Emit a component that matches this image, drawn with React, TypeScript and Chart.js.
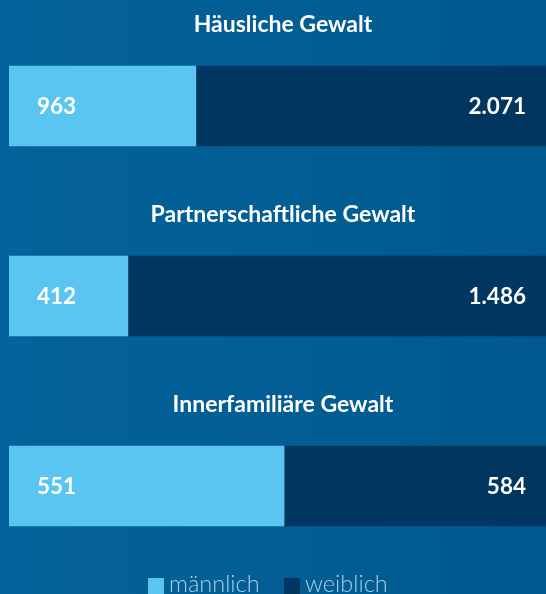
import React, { useEffect, useRef } from "react";
import { Chart, registerables } from "chart.js";

Chart.register(...registerables);

const categories = ["Häusliche Gewalt", "Partnerschaftliche Gewalt", "Innerfamiliäre Gewalt"];
const seriesNames = ["männlich", "weiblich"];
// bar shares as drawn in the picture (percent of the full bar)
const maleShare = [34.1, 21.7, 50.2];
const femaleShare = [65.9, 78.3, 49.8];
// numbers printed in the bars
const maleLabels = ["963", "412", "551"];
const femaleLabels = ["2.071", "1.486", "584"];

const MALE_COLOR = "#5bc5f2";
const FEMALE_COLOR = "#003660";
const FONT = "Lato, 'Open Sans', sans-serif";

const overlayPlugin = {
  id: "overlay",
  beforeDraw(chart: any) {
    const { ctx, width, height } = chart;
    const g = ctx.createLinearGradient(0, 0, width, 0);
    g.addColorStop(0, "#04639a");
    g.addColorStop(1, "#00598e");
    ctx.save();
    ctx.fillStyle = g;
    ctx.fillRect(0, 0, width, height);
    ctx.restore();
  },
  afterDatasetsDraw(chart: any) {
    const { ctx, chartArea } = chart;
    const xScale = chart.scales.x;
    const m0 = chart.getDatasetMeta(0);
    const m1 = chart.getDatasetMeta(1);
    ctx.save();
    ctx.fillStyle = "#ffffff";
    ctx.textBaseline = "middle";
    m0.data.forEach((bar: any, i: number) => {
      // title above the bar
      ctx.font = `700 23px ${FONT}`;
      ctx.textAlign = "center";
      ctx.fillText(categories[i], xScale.getPixelForValue(50), bar.y - 81);
      // male value
      ctx.font = `700 22.5px ${FONT}`;
      ctx.textAlign = "left";
      ctx.fillText(maleLabels[i], bar.base + 28, bar.y + 1);
      // female value
      const fb = m1.data[i];
      ctx.textAlign = "right";
      ctx.fillText(femaleLabels[i], Math.min(fb.x, chartArea.right) - 20, fb.y + 1);
    });
    // legend
    ctx.textBaseline = "alphabetic";
    ctx.textAlign = "left";
    ctx.font = `300 23.5px ${FONT}`;
    const colors = [MALE_COLOR, FEMALE_COLOR];
    const starts = [148, 284];
    seriesNames.forEach((name, i) => {
      ctx.fillStyle = colors[i];
      ctx.fillRect(starts[i], 578, 16, 16);
      ctx.fillStyle = "#a6cde6";
      ctx.fillText(name, starts[i] + 21, 592);
    });
    ctx.restore();
  },
};

export default function App() {
  const ref = useRef<HTMLCanvasElement | null>(null);
  useEffect(() => {
    document.body.style.margin = "0";
    const chart = new Chart(ref.current!, {
      type: "bar",
      data: {
        labels: categories,
        datasets: [
          { label: seriesNames[0], data: maleShare, backgroundColor: MALE_COLOR, barThickness: 80 },
          { label: seriesNames[1], data: femaleShare, backgroundColor: FEMALE_COLOR, barThickness: 80 },
        ],
      },
      options: {
        indexAxis: "y",
        animation: false,
        responsive: false,
        events: [],
        layout: { padding: { left: 9, right: 0, top: 11, bottom: 13 } },
        scales: {
          x: { stacked: true, min: 0, max: 98, display: false },
          y: { stacked: true, display: false, offset: true },
        },
        plugins: {
          legend: { display: false },
          tooltip: { enabled: false },
        },
      },
      plugins: [overlayPlugin],
    } as any);
    return () => chart.destroy();
  }, []);
  return (
    <div style={{ position: "absolute", left: 0, top: 0, width: 546, height: 594 }}>
      <canvas ref={ref} width={546} height={594} style={{ display: "block" }} />
    </div>
  );
}
